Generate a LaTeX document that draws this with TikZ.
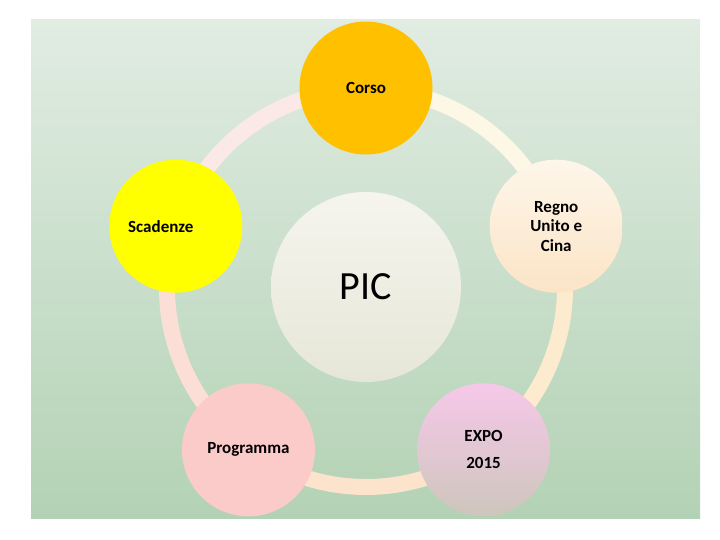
\documentclass[tikz,border=0pt]{standalone}
\usepackage{fontspec}
\setmainfont{Carlito}
\definecolor{bgtop}{HTML}{E1ECE2}
\definecolor{bgbot}{HTML}{B3D2B5}
\definecolor{corso}{HTML}{FFC000}
\definecolor{scad}{HTML}{FFFF00}
\definecolor{regtop}{HTML}{FDF6EA}
\definecolor{regbot}{HTML}{FCE4C6}
\definecolor{prog}{HTML}{FACBC9}
\definecolor{expotop}{HTML}{F6C8E9}
\definecolor{expobot}{HTML}{CEC6BC}
\definecolor{pictop}{HTML}{F5F5EE}
\definecolor{picbot}{HTML}{E6E6D8}
\definecolor{segA}{HTML}{FDF8E6}
\definecolor{segB}{HTML}{FCEBCF}
\definecolor{segC}{HTML}{FCE3CB}
\definecolor{segD}{HTML}{FBDFD6}
\definecolor{segE}{HTML}{FBE9E8}
\tikzset{
  bub/.style={circle, minimum size=133pt, inner sep=0pt, draw=none, font=\fontsize{17}{19.5}\selectfont\bfseries, align=center, text=black},
  lbl/.style={font=\fontsize{17}{19.5}\selectfont\bfseries, align=center, text=black, inner sep=0pt},
  ring/.style={line width=16pt}
}
\begin{document}
\begin{tikzpicture}[x=1pt,y=1pt]
\useasboundingbox (0,0) rectangle (720,540);
\shade[top color=bgtop, bottom color=bgbot] (31,21) rectangle (700,520);
\coordinate (C) at (366,252);
% ring segments
\draw[ring, segA] ([shift={(90:199pt)}]C) arc[start angle=90, end angle=18, radius=199pt];
\draw[ring, segB] ([shift={(18:199pt)}]C) arc[start angle=18, end angle=-54, radius=199pt];
\draw[ring, segC] ([shift={(-54:199pt)}]C) arc[start angle=-54, end angle=-126, radius=199pt];
\draw[ring, segD] ([shift={(234:199pt)}]C) arc[start angle=234, end angle=162, radius=199pt];
\draw[ring, segE] ([shift={(162:199pt)}]C) arc[start angle=162, end angle=90, radius=199pt];
% center
\node[circle, minimum size=190pt, inner sep=0pt, top color=pictop, bottom color=picbot, font=\fontsize{40}{44}\selectfont] (pic) at (366,253) {PIC};
% outer bubbles
\node[bub, fill=corso] (corso) at ([shift={(90:200pt)}]C) {Corso};
\node[bub, top color=regtop, bottom color=regbot] (regno) at ([shift={(18:200pt)}]C) {Regno\\Unito e\\Cina};
\node[bub, top color=expotop, bottom color=expobot] (expo) at ([shift={(306:200pt)}]C) {EXPO\\[7.5pt]2015};
\node[bub, fill=prog] (prog) at ([shift={(234:200pt)}]C) {};
\node[lbl] (progt) at (prog) {Programma};
\node[bub, fill=scad] (scad) at ([shift={(162:200pt)}]C) {};
\node[lbl] (scadt) at ([xshift=-15pt]scad) {Scadenze};
\end{tikzpicture}
\end{document}
